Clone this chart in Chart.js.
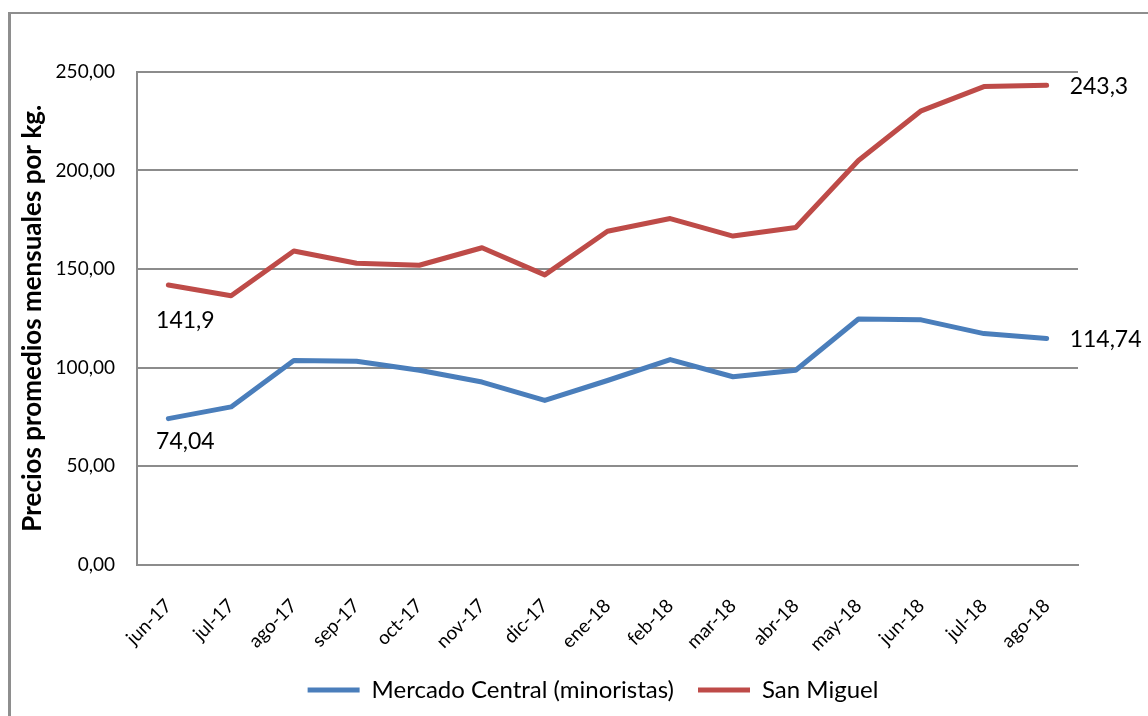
<!DOCTYPE html>
<html>
<head>
<meta charset="utf-8">
<script src="https://cdn.jsdelivr.net/npm/chart.js@4.4.1/dist/chart.umd.min.js"></script>
<style>
  html, body { margin: 0; padding: 0; background: #fff; overflow: hidden; }
  #wrap { position: relative; width: 1148px; height: 716px; }
  #frame { position: absolute; left: 8px; top: 12px; width: 1200px; height: 800px;
           border-left: 3px solid #8e8e8e; border-top: 2px solid #8e8e8e; }
  canvas { position: absolute; left: 0; top: 0; }
</style>
</head>
<body>
<div id="wrap">
  <div id="frame"></div>
  <canvas id="chart" width="1148" height="716"></canvas>
</div>
<script>
// precios promedios mensuales por kg
const months = ["jun-17", "jul-17", "ago-17", "sep-17", "oct-17", "nov-17", "dic-17", "ene-18",
                "feb-18", "mar-18", "abr-18", "may-18", "jun-18", "jul-18", "ago-18"];
const mercadoCentral = [74.04, 80, 103.5, 103.2, 98.6, 92.6, 83.3, 93.4, 104, 95.3, 98.6, 124.6, 124.2, 117.2, 114.74];
const sanMiguel = [141.9, 136.4, 159.1, 152.9, 151.9, 160.8, 147, 169.2, 175.6, 166.7, 171.1, 205.1, 230.3, 242.6, 243.3];
const seriesNames = ["Mercado Central (minoristas)", "San Miguel"];
const yTicks = [0, 50, 100, 150, 200, 250];

const FONT = "Lato, 'Open Sans', sans-serif";
const BLUE = "#4a7ebb";
const RED = "#be4b48";
const GRID = "#8c8c8c";

const fmt = v => String(v).replace(".", ",");

// first / last value labels, like the excel sheet had them
const valueLabels = {
  id: "valueLabels",
  afterDatasetsDraw(chart) {
    const ctx = chart.ctx;
    const spots = [
      { ds: 0, i: 0, dx: 17, dy: 23, align: "center" },
      { ds: 1, i: 0, dx: 17, dy: 36, align: "center" },
      { ds: 0, i: months.length - 1, dx: 23, dy: 1, align: "left" },
      { ds: 1, i: months.length - 1, dx: 23, dy: 1, align: "left" }
    ];
    ctx.save();
    ctx.font = "23px " + FONT;
    ctx.fillStyle = "#000";
    ctx.textBaseline = "middle";
    spots.forEach(s => {
      const pt = chart.getDatasetMeta(s.ds).data[s.i];
      const v = chart.data.datasets[s.ds].data[s.i];
      ctx.textAlign = s.align;
      ctx.fillText(fmt(v), pt.x + s.dx, pt.y + s.dy);
    });
    ctx.restore();
  }
};

new Chart(document.getElementById("chart"), {
  type: "line",
  data: {
    labels: months,
    datasets: [
      { label: seriesNames[0], data: mercadoCentral, borderColor: BLUE, backgroundColor: BLUE,
        borderWidth: 5, pointRadius: 0, tension: 0, borderCapStyle: "round", borderJoinStyle: "round" },
      { label: seriesNames[1], data: sanMiguel, borderColor: RED, backgroundColor: RED,
        borderWidth: 5, pointRadius: 0, tension: 0, borderCapStyle: "round", borderJoinStyle: "round" }
    ]
  },
  options: {
    responsive: false,
    animation: false,
    layout: { padding: { left: 38, right: 0, top: 72, bottom: 4 } },
    plugins: {
      tooltip: { enabled: false },
      legend: {
        position: "bottom",
        labels: {
          font: { family: FONT, size: 24 },
          color: "#000",
          boxWidth: 52,
          boxHeight: 5,
          padding: 24,
          generateLabels: chart => chart.data.datasets.map((d, i) => ({
            text: d.label, fillStyle: d.borderColor, strokeStyle: d.borderColor,
            lineWidth: 0, datasetIndex: i, hidden: false
          }))
        }
      }
    },
    scales: {
      x: {
        offset: true,
        grid: { display: false },
        border: { display: true, color: GRID, width: 2 },
        ticks: { font: { family: FONT, size: 19 }, color: "#000", minRotation: 45, maxRotation: 45, padding: 22 },
        afterFit: s => { s.height = 89.5; }
      },
      y: {
        min: 0,
        max: 250,
        afterBuildTicks: s => { s.ticks = yTicks.map(v => ({ value: v })); },
        grid: { color: GRID, lineWidth: 2, drawTicks: false },
        border: { display: true, color: GRID, width: 2 },
        ticks: { font: { family: FONT, size: 19 }, color: "#000", padding: 22,
                 callback: v => v.toFixed(2).replace(".", ",") },
        title: { display: true, text: "Precios promedios mensuales por kg.", color: "#000",
                 font: { family: FONT, size: 26, weight: "bold" }, padding: { top: -21, bottom: 0 } },
        afterFit: s => { s.width = 99; }
      },
      // empty right scale, only keeps room for the end labels
      yRight: {
        position: "right",
        display: true,
        grid: { display: false },
        border: { display: false },
        ticks: { display: false },
        afterFit: s => { s.width = 70; }
      }
    }
  },
  plugins: [valueLabels]
});
</script>
</body>
</html>
